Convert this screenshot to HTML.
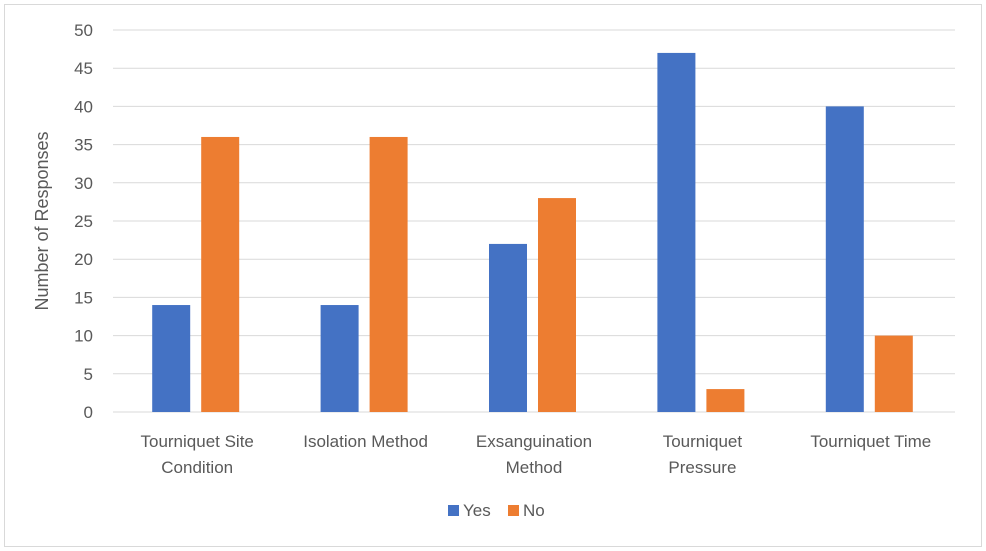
<!DOCTYPE html>
<html><head><meta charset="utf-8">
<style>
html,body{margin:0;padding:0;background:#fff;}
svg{display:block;font-family:"Liberation Sans",Calibri,sans-serif;}
</style></head>
<body>
<svg id="chart" width="986" height="551" viewBox="0 0 986 551">
<rect x="4.5" y="4.5" width="977" height="542" fill="#fff" stroke="#d9d9d9"/>
<g id="grid"></g><g id="bars"></g><g id="labels"></g>
<text transform="translate(48,221) rotate(-90)" text-anchor="middle" font-size="18" fill="#595959">Number of Responses</text>
<g>
<rect x="448" y="505" width="11" height="11" fill="#4472c4"/>
<text x="463" y="516" font-size="17" fill="#595959">Yes</text>
<rect x="508" y="505" width="11" height="11" fill="#ed7d31"/>
<text x="523" y="516" font-size="17" fill="#595959">No</text>
</g>
</svg>
<script>
const categories=[["Tourniquet Site","Condition"],["Isolation Method"],["Exsanguination","Method"],["Tourniquet","Pressure"],["Tourniquet Time"]];
const yesValues=[14,14,22,47,40];
const noValues=[36,36,28,3,10];
const yTicks=[0,5,10,15,20,25,30,35,40,45,50];
const NS="http://www.w3.org/2000/svg";
const x0=113,x1=955,yTop=30,yBot=412,yMax=50;
const y=v=>yBot-(v/yMax)*(yBot-yTop);
const band=(x1-x0)/categories.length;
const cx=i=>x0+band*(i+0.5);
function mk(tag,attrs,parent){const e=document.createElementNS(NS,tag);for(const k in attrs)e.setAttribute(k,attrs[k]);parent.appendChild(e);return e;}
const grid=document.getElementById('grid'),bars=document.getElementById('bars'),labels=document.getElementById('labels');
yTicks.forEach(t=>{
 const l=mk('line',{x1:x0,x2:x1,y1:y(t),y2:y(t),stroke:'#d9d9d9','stroke-width':1},grid);
 
 
 const tx=mk('text',{x:93,y:y(t)+6,'text-anchor':'end','font-size':17,fill:'#595959'},labels);
 tx.textContent=t;
 
 
});
categories.forEach((c,i)=>{
 const b1=mk('rect',{x:cx(i)-45,y:y(yesValues[i]),width:38,height:yBot-y(yesValues[i]),fill:'#4472c4'},bars);
 
 
 const b2=mk('rect',{x:cx(i)+4,y:y(noValues[i]),width:38,height:yBot-y(noValues[i]),fill:'#ed7d31'},bars);
 
 
 c.forEach((line,j)=>{
  const t=mk('text',{x:cx(i),y:447+j*26,'text-anchor':'middle','font-size':17,fill:'#595959'},labels);
  t.textContent=line;
  
  
 });
});
</script>
</body></html>
